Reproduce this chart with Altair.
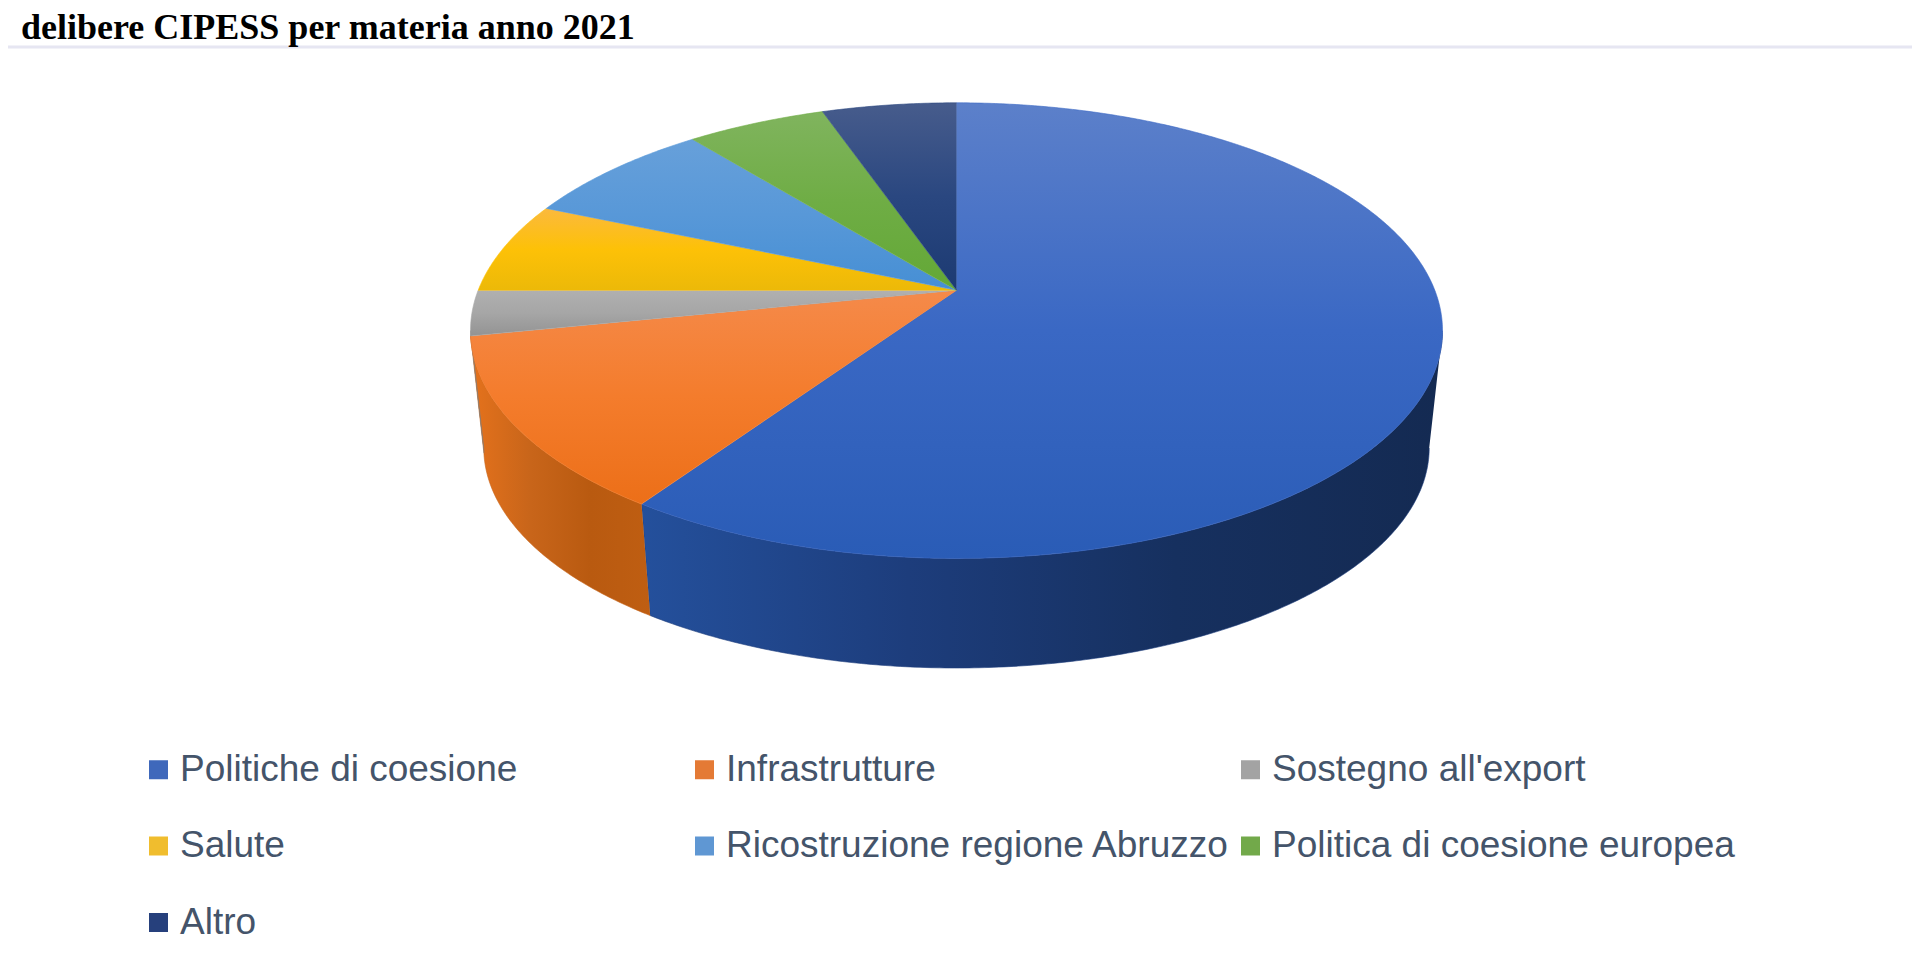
import math
import altair as alt
import pandas as pd

TITLE = "delibere CIPESS per materia anno 2021"
categories = ["Politiche di coesione", "Infrastrutture", "Sostegno all'export", "Salute",
              "Ricostruzione regione Abruzzo", "Politica di coesione europea", "Altro"]
values = [59.5, 12.3, 3.2, 6.5, 7.7, 5.5, 5.3]
legend_colors = ["#3f68bb", "#e47a35", "#a3a3a3", "#f0bd2e", "#5f97d3", "#72a94a", "#26407c"]
top_stops = [
    ["#5c80ca", "#3a68c4", "#2a5cb6"],
    ["#f58a4a", "#f47c2c", "#ec6f18"],
    ["#b0b0b0", "#a6a6a6", "#939393"],
    ["#fbb93e", "#fdc107", "#ecb908"],
    ["#67a0da", "#5898d8", "#468fd4"],
    ["#80b45e", "#6fad45", "#63a836"],
    ["#475c8c", "#2a4780", "#1c3a72"],
]
wall_stops = [
    ["#24509c", "#1d3d7c", "#16305f", "#142a52"],
    ["#e5721c", "#c8651a", "#b95a10", "#bf5e12"],
    ["#8a8a8a", "#808080", "#7a7a7a", "#777777"],
]

W, H = 1904, 942
CX = 948.5
TOP = dict(rx=486.0, ry=227.8, cy=322.6)
BOT = dict(rx=472.7, ry=220.0, cy=440.0)
TILT = 0.177
STEP = 0.5


def project(theta_deg, level):
    t = math.radians(theta_deg)
    u, v = math.sin(t), math.cos(t)
    den = 1 + TILT * v
    X = u * math.sqrt(1 - TILT ** 2) / den
    Y = (v + TILT) / den
    return CX + level["rx"] * X, level["cy"] - level["ry"] * Y


def arc(a0, a1):
    n = max(2, int(abs(a1 - a0) / STEP))
    return [a0 + (a1 - a0) * i / n for i in range(n + 1)]


x_scale = alt.Scale(domain=[0, W], range=[0, W], nice=False, zero=False)
y_scale = alt.Scale(domain=[H, 0], nice=False, zero=False)


def polygon(points, fill, stroke):
    df = pd.DataFrame([{"px": p[0], "py": p[1], "i": i} for i, p in enumerate(points)])
    return alt.Chart(df).mark_line(fill=fill, stroke=stroke, strokeWidth=0.6).encode(
        x=alt.X("px:Q", scale=x_scale, axis=None),
        y=alt.Y("py:Q", scale=y_scale, axis=None),
        order=alt.Order("i:Q"),
    )


def gradient(colors, horizontal=False):
    n = len(colors) - 1
    return alt.LinearGradient(
        gradient="linear", x1=0, y1=0,
        x2=1 if horizontal else 0, y2=0 if horizontal else 1,
        stops=[alt.GradientStop(offset=i / n, color=c) for i, c in enumerate(colors)],
    )


total = sum(values)
edges = [0.0]
for val in values:
    edges.append(edges[-1] + val / total * 360)

vis0 = math.degrees(math.acos(-TILT))
vis1 = 360 - vis0
apex = (CX, TOP["cy"] - TOP["ry"] * TILT)

layers = []

# Legend carrier, hidden behind the pie
legend_df = pd.DataFrame({"cat": categories, "px": [apex[0]] * 7, "py": [apex[1]] * 7})
layers.append(alt.Chart(legend_df).mark_square(size=1, opacity=1).encode(
    x=alt.X("px:Q", scale=x_scale, axis=None),
    y=alt.Y("py:Q", scale=y_scale, axis=None),
    color=alt.Color("cat:N", sort=categories,
                    scale=alt.Scale(domain=categories, range=legend_colors),
                    legend=alt.Legend(
                        title=None, orient="none", legendX=132, legendY=743,
                        direction="horizontal", columns=3, gridAlign="all",
                        symbolType="square", symbolSize=361, symbolStrokeWidth=0, symbolOpacity=1,
                        labelFont="Liberation Sans", labelFontSize=37, labelColor="#44546a",
                        labelOffset=3, labelLimit=700, columnPadding=2, rowPadding=38.5,
                    )),
))

# Side walls
for k in range(len(values)):
    a0, a1 = max(edges[k], vis0), min(edges[k + 1], vis1)
    if a1 <= a0 or k >= len(wall_stops):
        continue
    angles = arc(a0, a1)
    pts = [project(a, TOP) for a in angles] + [project(a, BOT) for a in reversed(angles)]
    layers.append(polygon(pts, gradient(wall_stops[k], True), wall_stops[k][1]))

# Top faces
for k in range(len(values)):
    pts = [apex] + [project(a, TOP) for a in arc(edges[k], edges[k + 1])]
    layers.append(polygon(pts, gradient(top_stops[k]), top_stops[k][1]))

rule = alt.Chart(pd.DataFrame({"a": [0]})).mark_rule(color="#e6e6f2", strokeWidth=3).encode(
    x=alt.value(0), x2=alt.value(W), y=alt.value(39))
title = alt.Chart(pd.DataFrame({"a": [0]})).mark_text(
    font="Liberation Serif", fontWeight="bold", fontSize=36, color="#000000",
    align="left", baseline="alphabetic").encode(
    x=alt.value(13), y=alt.value(31), text=alt.value(TITLE))
layers += [rule, title]

chart = alt.layer(*layers).properties(
    width=W, height=H, padding=0, autosize=alt.AutoSizeParams(type="none"),
    background="white",
).configure_view(stroke=None)

chart.save("out.html", embed_options={"renderer": "svg", "actions": False})
